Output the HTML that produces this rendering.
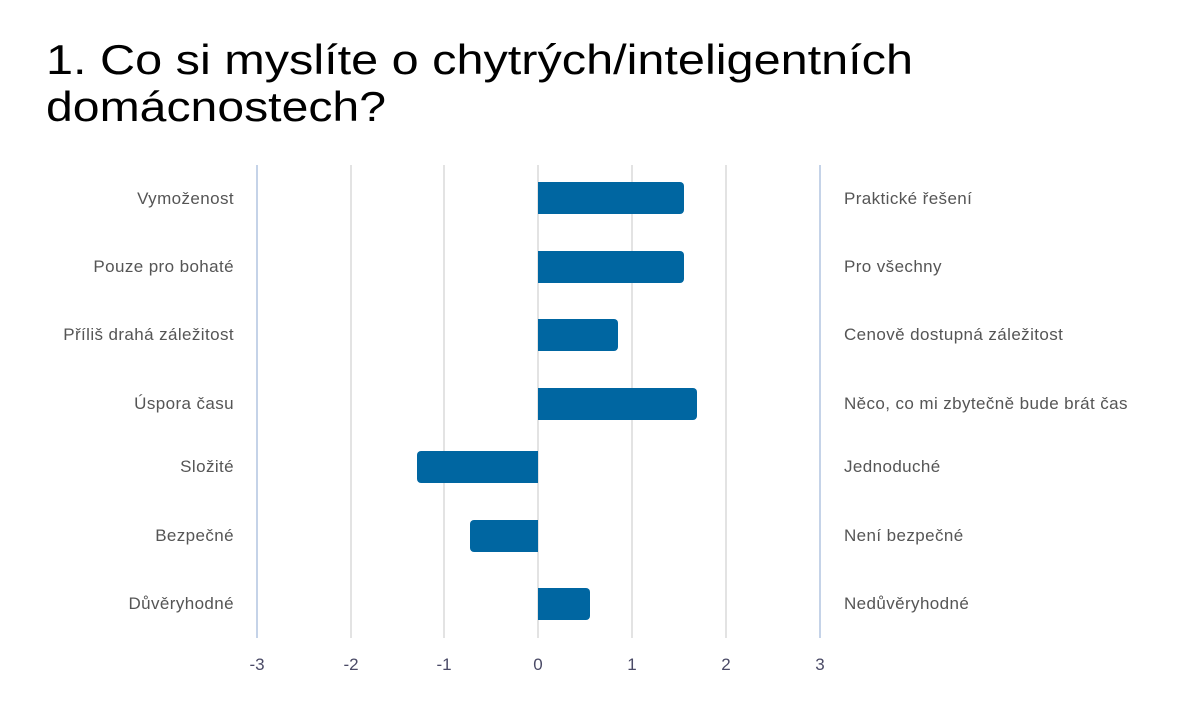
<!DOCTYPE html>
<html><head><meta charset="utf-8"><style>
body{margin:0;background:#fff;width:1190px;height:714px;overflow:hidden;font-family:"Liberation Sans",sans-serif}
</style></head><body>
<svg width="1190" height="714" style="position:absolute;left:0;top:0" font-family="Liberation Sans, sans-serif">
<defs><clipPath id="c"><rect x="0" y="0" width="1133" height="714"/></clipPath></defs>
<text x="46" y="74" font-size="42" fill="#000" textLength="867" lengthAdjust="spacingAndGlyphs">1. Co si myslíte o chytrých/inteligentních</text>
<text x="46" y="121" font-size="42" fill="#000" textLength="340" lengthAdjust="spacingAndGlyphs">domácnostech?</text>
<g stroke-width="2">
<line x1="257" y1="165" x2="257" y2="638" stroke="#c5d3e8"/>
<line x1="351" y1="165" x2="351" y2="638" stroke="#e3e3e3"/>
<line x1="444" y1="165" x2="444" y2="638" stroke="#e3e3e3"/>
<line x1="538" y1="165" x2="538" y2="638" stroke="#e3e3e3"/>
<line x1="632" y1="165" x2="632" y2="638" stroke="#e3e3e3"/>
<line x1="726" y1="165" x2="726" y2="638" stroke="#e3e3e3"/>
<line x1="820" y1="165" x2="820" y2="638" stroke="#c5d3e8"/>
</g>
<g fill="#0066a1">
<path d="M538 182H680a4 4 0 0 1 4 4V210a4 4 0 0 1-4 4H538Z"/>
<path d="M538 251H680a4 4 0 0 1 4 4V279a4 4 0 0 1-4 4H538Z"/>
<path d="M538 319H614a4 4 0 0 1 4 4V347a4 4 0 0 1-4 4H538Z"/>
<path d="M538 388H693a4 4 0 0 1 4 4V416a4 4 0 0 1-4 4H538Z"/>
<path d="M538 451H421a4 4 0 0 0-4 4V479a4 4 0 0 0 4 4H538Z"/>
<path d="M538 520H474a4 4 0 0 0-4 4V548a4 4 0 0 0 4 4H538Z"/>
<path d="M538 588H586a4 4 0 0 1 4 4V616a4 4 0 0 1-4 4H538Z"/>
</g>
<g font-size="17" fill="#555" text-anchor="end" letter-spacing="0.4">
<text x="234" y="204">Vymoženost</text>
<text x="234" y="272">Pouze pro bohaté</text>
<text x="234" y="340">Příliš drahá záležitost</text>
<text x="234" y="409">Úspora času</text>
<text x="234" y="472">Složité</text>
<text x="234" y="541">Bezpečné</text>
<text x="234" y="609">Důvěryhodné</text>
</g>
<g font-size="17" fill="#555" letter-spacing="0.4" clip-path="url(#c)">
<text x="844" y="204">Praktické řešení</text>
<text x="844" y="272">Pro všechny</text>
<text x="844" y="340">Cenově dostupná záležitost</text>
<text x="844" y="409">Něco, co mi zbytečně bude brát čas</text>
<text x="844" y="472">Jednoduché</text>
<text x="844" y="541">Není bezpečné</text>
<text x="844" y="609">Nedůvěryhodné</text>
</g>
<g font-size="17" fill="#4a4a66" text-anchor="middle">
<text x="257" y="670">-3</text><text x="351" y="670">-2</text><text x="444" y="670">-1</text>
<text x="538" y="670">0</text><text x="632" y="670">1</text><text x="726" y="670">2</text><text x="820" y="670">3</text>
</g>
</svg>
</body></html>
